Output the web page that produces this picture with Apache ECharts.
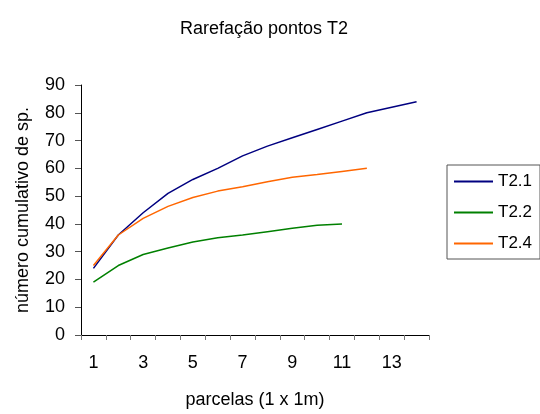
<!DOCTYPE html>
<html>
<head>
<meta charset="utf-8">
<script src="https://cdn.jsdelivr.net/npm/echarts@6/dist/echarts.min.js"></script>
<style>
  html, body { margin: 0; padding: 0; background: #fff; }
  #chart { width: 540px; height: 414px; }
</style>
</head>
<body>
<div id="chart"></div>
<script>
// Plot categories (number of plots sampled)
const parcelas = ['1','2','3','4','5','6','7','8','9','10','11','12','13','14'];

// Cumulative species counts per transect
const t21 = [24, 36, 44, 51, 56, 60, 64.5, 68, 71, 74, 77, 80, 82, 84];
const t22 = [19, 25, 29, 31.3, 33.5, 35, 36, 37.2, 38.4, 39.5, 40];
const t24 = [25, 36, 42, 46.3, 49.5, 51.8, 53.4, 55.2, 56.8, 57.8, 58.9, 60];

const fontFam = '"Liberation Sans", Arial, sans-serif';

const chart = echarts.init(document.getElementById('chart'));
chart.setOption({
  backgroundColor: '#ffffff',
  animation: false,
  title: {
    text: 'Rarefação pontos T2',
    left: 259,
    textAlign: 'center',
    top: 15,
    textStyle: { fontFamily: fontFam, fontSize: 18, fontWeight: 'normal', color: '#000' }
  },
  legend: {
    orient: 'vertical',
    left: 447,
    top: 165,
    padding: [8, 8, 7, 7],
    itemGap: 14,
    itemWidth: 39,
    itemHeight: 2,
    icon: 'rect',
    borderColor: '#555',
    borderWidth: 1,
    textStyle: { fontFamily: fontFam, fontSize: 17, color: '#000' },
    data: ['T2.1', 'T2.2', 'T2.4']
  },
  grid: { left: 81, right: 111, top: 85, bottom: 73 },
  xAxis: {
    type: 'category',
    data: parcelas,
    boundaryGap: true,
    name: 'parcelas (1 x 1m)',
    nameLocation: 'middle',
    nameGap: 56,
    nameTextStyle: { fontFamily: fontFam, fontSize: 18, color: '#000' },
    axisLine: { lineStyle: { color: '#000', width: 1 } },
    axisTick: { show: true, alignWithLabel: false, interval: 0, length: 5, lineStyle: { color: '#777' } },
    axisLabel: {
      interval: 1,
      margin: 19,
      fontFamily: fontFam, fontSize: 18, color: '#000'
    },
    splitLine: { show: false }
  },
  yAxis: {
    type: 'value',
    min: 0,
    max: 90,
    interval: 10,
    name: 'número cumulativo de sp.',
    nameLocation: 'middle',
    nameGap: 49,
    nameTextStyle: { fontFamily: fontFam, fontSize: 18, color: '#000' },
    axisLine: { show: true, lineStyle: { color: '#000', width: 1 } },
    axisTick: { show: true, length: 6, lineStyle: { color: '#555' } },
    axisLabel: { margin: 16, fontFamily: fontFam, fontSize: 18, color: '#000' },
    splitLine: { show: false }
  },
  series: [
    { name: 'T2.1', type: 'line', data: t21, showSymbol: false, symbol: 'none',
      lineStyle: { color: '#000080', width: 1.5 }, itemStyle: { color: '#000080' } },
    { name: 'T2.2', type: 'line', data: t22, showSymbol: false, symbol: 'none',
      lineStyle: { color: '#008000', width: 1.5 }, itemStyle: { color: '#008000' } },
    { name: 'T2.4', type: 'line', data: t24, showSymbol: false, symbol: 'none',
      lineStyle: { color: '#ff6600', width: 1.5 }, itemStyle: { color: '#ff6600' } }
  ]
});
</script>
</body>
</html>
